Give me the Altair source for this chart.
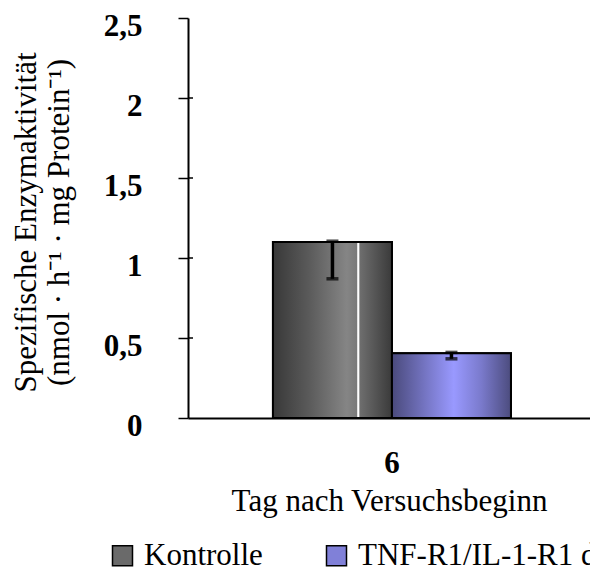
import altair as alt
import pandas as pd

# ---- data ----
tage = ["6"]
gruppen = ["Kontrolle", "TNF-R1/IL-1-R1 d"]
werte = [1.10, 0.405]
fehler_unten = [0.87, 0.37]
fehler_oben = [1.105, 0.41]
y_ticks = [0, 0.5, 1, 1.5, 2, 2.5]
inner_ticks = [0.5, 1, 1.5, 2]

FONT = "Liberation Serif"

df = pd.DataFrame({
    "Tag": [tage[0]] * len(gruppen),
    "Gruppe": gruppen,
    "Wert": werte,
    "lo": fehler_unten,
    "hi": fehler_oben,
})
caps = pd.DataFrame({
    "Tag": [tage[0]] * (2 * len(gruppen)),
    "Gruppe": gruppen + gruppen,
    "v": fehler_unten + fehler_oben,
})
ticks_df = pd.DataFrame({"t": inner_ticks})

grad_gray = alt.Gradient(
    gradient="linear", x1=0, x2=1, y1=0, y2=0,
    stops=[
        alt.GradientStop(color="#383838", offset=0),
        alt.GradientStop(color="#5a5a5a", offset=0.3),
        alt.GradientStop(color="#858585", offset=0.62),
        alt.GradientStop(color="#7a7a7a", offset=0.705),
        alt.GradientStop(color="#ffffff", offset=0.712),
        alt.GradientStop(color="#ffffff", offset=0.722),
        alt.GradientStop(color="#6e6e6e", offset=0.73),
        alt.GradientStop(color="#3a3a3a", offset=1),
    ],
)
grad_blue = alt.Gradient(
    gradient="linear", x1=0, x2=1, y1=0, y2=0,
    stops=[
        alt.GradientStop(color="#4a4a7c", offset=0),
        alt.GradientStop(color="#7878c8", offset=0.3),
        alt.GradientStop(color="#9999ff", offset=0.52),
        alt.GradientStop(color="#7a7acc", offset=0.75),
        alt.GradientStop(color="#4c4c7e", offset=1),
    ],
)

x_enc = alt.X(
    "Tag:N",
    scale=alt.Scale(domain=tage, paddingOuter=0.3445, paddingInner=0, align=0.518),
    axis=alt.Axis(
        title="Tag nach Versuchsbeginn",
        labelAngle=0,
        ticks=False,
        labelFont=FONT, labelFontSize=31, labelFontWeight="bold", labelPadding=30,
        titleFont=FONT, titleFontSize=31, titleFontWeight="normal",
        titleY=68, titleBaseline="top",
        domainWidth=2,
    ),
)
xo_enc = alt.XOffset("Gruppe:N", scale=alt.Scale(domain=gruppen, paddingInner=0, paddingOuter=0))
y_scale = alt.Scale(domain=[0, 2.5], nice=False, zero=True)
y_axis = alt.Axis(
    values=y_ticks,
    labelExpr="replace(toString(datum.value), '.', ',')",
    labelFont=FONT, labelFontSize=31, labelFontWeight="bold", labelPadding=36,
    labelOffset=8,
    tickSize=10, tickWidth=1.5, domainWidth=2, grid=False,
    title=["Spezifische Enzymaktivität", "(nmol · h⁻¹ · mg Protein⁻¹)"],
    titleFont=FONT, titleFontSize=31, titleFontWeight="normal", titleLineHeight=33,
    titleAngle=270, titleX=-177, titleY=204, titleBaseline="top", titleAlign="center",
)

base = alt.Chart(df).mark_bar(stroke="black", strokeWidth=2).encode(
    x=x_enc,
    xOffset=xo_enc,
    y=alt.Y("Wert:Q", scale=y_scale, axis=y_axis),
    fill=alt.Fill(
        "Gruppe:N",
        scale=alt.Scale(domain=gruppen, range=["#6a6a6a", "#8080d8"]),
        legend=alt.Legend(
            title=None, orient="none", direction="horizontal",
            legendX=-81, legendY=522, padding=0,
            symbolType="square", symbolSize=400, symbolStrokeColor="black",
            symbolStrokeWidth=1.5, symbolOpacity=1,
            labelFont=FONT, labelFontSize=31, labelColor="black",
            labelOffset=6, labelLimit=500, columnPadding=58,
        ),
    ),
)

over_gray = alt.Chart(df).transform_filter(alt.datum.Gruppe == gruppen[0]).mark_bar(
    fill=grad_gray, stroke="black", strokeWidth=2
).encode(x=x_enc, xOffset=xo_enc, y=alt.Y("Wert:Q", scale=y_scale))

over_blue = alt.Chart(df).transform_filter(alt.datum.Gruppe == gruppen[1]).mark_bar(
    fill=grad_blue, stroke="black", strokeWidth=2
).encode(x=x_enc, xOffset=xo_enc, y=alt.Y("Wert:Q", scale=y_scale))

err = alt.Chart(df).mark_rule(color="black", strokeWidth=3.5).encode(
    x=x_enc, xOffset=xo_enc,
    y=alt.Y("lo:Q", scale=y_scale), y2="hi:Q",
)
cap = alt.Chart(caps).mark_tick(color="black", thickness=3.5, size=12, orient="horizontal").encode(
    x=x_enc, xOffset=xo_enc,
    y=alt.Y("v:Q", scale=y_scale),
)

inner = alt.Chart(ticks_df).mark_rule(color="black", strokeWidth=1.5).encode(
    x=alt.value(0), x2=alt.value(5),
    y=alt.Y("t:Q", scale=y_scale),
)

chart = alt.layer(base, over_gray, over_blue, err, cap, inner).properties(
    width=402, height=400,
    autosize=alt.AutoSizeParams(type="none"),
    padding={"left": 180, "top": 10, "right": 0, "bottom": 155},
).configure_view(stroke=None).configure_axis(
    domainColor="black", tickColor="black", labelColor="black", titleColor="black"
)

chart.save("out.html", embed_options={"renderer": "svg", "actions": False})
